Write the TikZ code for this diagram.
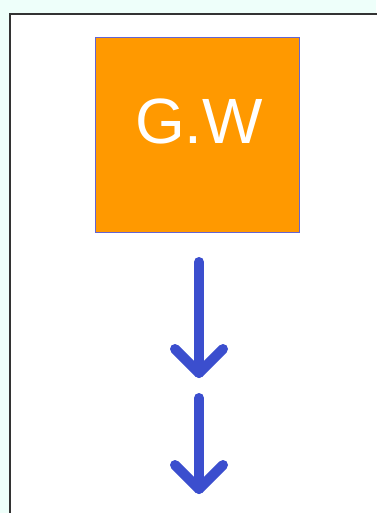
\documentclass[tikz,border=0pt]{standalone}
\usepackage{fontspec}
\setmainfont{Liberation Sans}
\usetikzlibrary{calc}
\definecolor{mint}{RGB}{238,255,250}
\definecolor{gworange}{RGB}{255,153,0}
\definecolor{boxblue}{RGB}{100,100,210}
\definecolor{arrowblue}{RGB}{59,78,206}
\begin{document}
\begin{tikzpicture}[x=1pt,y=-1pt,
  frame/.style={draw=black!80,line width=2pt},
  gwbox/.style={fill=gworange,draw=boxblue,line width=1.5pt},
  shaft/.style={draw=arrowblue,line width=10pt,line cap=round,line join=round}]
\fill[mint] (0,0) rectangle (376,513);
\useasboundingbox (0,0) rectangle (376,513);
\fill[white] (9.5,14) rectangle (380,520);
\draw[frame] (9.5,520) -- (9.5,14) -- (380,14);
\draw[gwbox] (95.5,37.5) rectangle (299.5,232.5);
\node[text=white,font=\fontsize{64}{64}\selectfont,inner sep=0pt] (gw) at (199,121) {G.W};
\coordinate (a1s) at (199,262);
\coordinate (a1t) at (199,373);
\coordinate (a2s) at (199,398);
\coordinate (a2t) at (199,489);
\draw[shaft] (a1s) -- (a1t);
\draw[shaft] ($(a1t)+(-24,-24)$) -- (a1t) -- ($(a1t)+(24,-24)$);
\draw[shaft] (a2s) -- (a2t);
\draw[shaft] ($(a2t)+(-24,-24)$) -- (a2t) -- ($(a2t)+(24,-24)$);
\end{tikzpicture}
\end{document}
